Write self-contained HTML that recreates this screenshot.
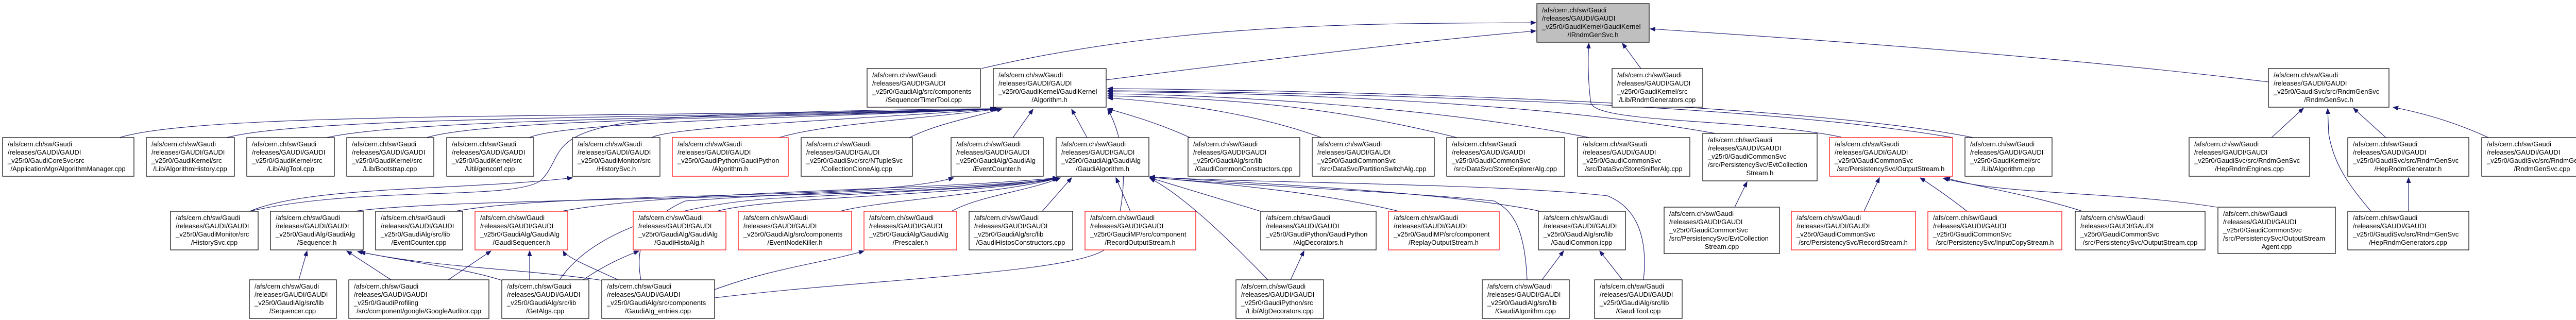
<!DOCTYPE html>
<html><head><meta charset="utf-8"><style>
html,body{margin:0;padding:0;background:#fff;}
svg{display:block;}
text{font-family:"Liberation Sans",Arial,sans-serif;font-size:13px;fill:#000;}
.b{fill:#fff;stroke:#000;stroke-width:1.2;}
.r{fill:#fff;stroke:#f00;stroke-width:1.2;}
.g{fill:#bfbfbf;stroke:#000;stroke-width:1.2;}
.e{fill:none;stroke:#191970;stroke-width:1.1;marker-end:url(#a);}
.c{text-anchor:middle;}
</style></head><body>
<svg width="5056" height="621" viewBox="0 0 5056 621" xmlns="http://www.w3.org/2000/svg">
<defs><marker id="a" markerUnits="userSpaceOnUse" markerWidth="11" markerHeight="8" refX="10" refY="4" orient="auto"><path d="M0,0 L10,4 L0,8 z" fill="#191970" stroke="#191970"/></marker></defs>

<!-- edges -->
<g>
<!-- to IRndmGenSvc -->
<path class="e" d="M1905,133 C2300,40 2700,46 2981,44"/>
<path class="e" d="M2147,155 C2500,110 2800,75 2981,60"/>
<path class="e" d="M3185,133 L3149,84"/>
<path class="e" d="M4403,159 C4000,110 3500,75 3203,56"/>
<path class="e" d="M3574,266 C3400,230 3100,240 3088,200 C3082,160 3082,110 3084,84"/>
<!-- row3 to Algorithm.h -->
<path class="e" d="M232,267 C400,215 1200,230 1932,211"/>
<path class="e" d="M440,267 C600,225 1300,230 1933,211"/>
<path class="e" d="M634,267 C800,230 1400,230 1934,211"/>
<path class="e" d="M828,267 C950,230 1500,230 1935,211"/>
<path class="e" d="M1027,267 C1100,235 1600,228 1936,211"/>
<path class="e" d="M1265,267 C1300,245 1700,230 1938,211"/>
<path class="e" d="M1512,267 C1600,240 1800,230 1940,211"/>
<path class="e" d="M1765,267 C1820,240 1880,230 1945,211"/>
<path class="e" d="M1966,267 L2005,212"/>
<path class="e" d="M2110,267 L2080,212"/>
<path class="e" d="M2310,267 C2250,240 2200,225 2150,211"/>
<path class="e" d="M2565,267 C2450,225 2300,200 2150,190"/>
<path class="e" d="M2828,267 C2600,210 2400,190 2150,186"/>
<path class="e" d="M3085,267 C2800,210 2400,185 2150,182"/>
<path class="e" d="M3330,259 C3000,200 2500,180 2150,178"/>
<path class="e" d="M3790,267 C3400,200 2600,180 2150,176"/>
<path class="e" d="M3830,267 C3500,200 2600,175 2150,172"/>
<!-- HistorySvc.cpp -->
<path class="e" d="M485,410 C600,360 900,370 1111,345"/>
<path class="e" d="M485,410 C700,360 1000,390 1050,350 C1100,300 1050,250 1290,230 C1500,215 1800,212 1932,211"/>
<path class="e" d="M1387,578 C1700,540 2100,530 2150,480 C2180,430 2200,300 2150,212"/>
<!-- row4/5 to GaudiAlgorithm.h -->
<path class="e" d="M688,410 C900,380 1800,390 2053,345"/>
<path class="e" d="M883,410 C1100,370 1700,390 1851,345"/>
<path class="e" d="M1090,410 C1300,370 1800,370 2054,345"/>
<path class="e" d="M1391,410 C1500,380 1900,380 2055,345"/>
<path class="e" d="M1631,410 C1700,390 1950,375 2056,345"/>
<path class="e" d="M1847,410 C1900,380 2000,370 2058,345"/>
<path class="e" d="M2023,410 L2080,345"/>
<path class="e" d="M2194,410 L2166,345"/>
<path class="e" d="M2447,410 C2350,380 2280,360 2232,345"/>
<path class="e" d="M2715,410 C2550,370 2350,355 2232,344"/>
<path class="e" d="M2990,410 C2800,370 2400,355 2232,343"/>
<path class="e" d="M2964,543 C2960,450 2940,410 2900,390 C2700,370 2400,360 2232,344"/>
<path class="e" d="M3190,543 C3200,450 3170,400 3120,380 C2900,355 2400,355 2232,343"/>
<path class="e" d="M1086,543 C1150,450 1300,400 1500,385 C1800,370 2000,360 2054,346"/>
<path class="e" d="M1244,543 C1230,470 1260,420 1330,390 C1600,370 1900,365 2054,347"/>
<path class="e" d="M2461,543 C2400,480 2300,380 2232,346"/>
<!-- row5 to row4 -->
<path class="e" d="M580,543 L596,487"/>
<path class="e" d="M759,543 L673,487"/>
<path class="e" d="M870,543 L953,487"/>
<path class="e" d="M974,544 C900,520 800,510 694,488"/>
<path class="e" d="M1169,544 C1000,520 850,520 699,489"/>
<path class="e" d="M1028,543 L1028,487"/>
<path class="e" d="M1200,543 C1150,520 1100,500 1093,487"/>
<path class="e" d="M1132,543 C1180,510 1220,495 1240,487"/>
<path class="e" d="M1387,562 C1500,520 1600,510 1677,487"/>
<path class="e" d="M2505,543 L2531,487"/>
<path class="e" d="M2993,543 L3035,487"/>
<path class="e" d="M3149,543 L3105,487"/>
<path class="e" d="M3367,402 L3391,353"/>
<path class="e" d="M3618,410 L3648,345"/>
<path class="e" d="M3818,410 C3780,380 3750,360 3727,345"/>
<path class="e" d="M4042,410 C3950,380 3850,365 3775,345"/>
<path class="e" d="M4303,402 C4100,370 3900,380 3772,346"/>
<!-- RndmGenSvc.h -->
<path class="e" d="M4409,267 L4471,210"/>
<path class="e" d="M4631,267 L4568,210"/>
<path class="e" d="M4830,267 C4750,230 4680,215 4645,208"/>
<path class="e" d="M4602,410 C4560,360 4530,320 4520,260 L4518,211"/>
<path class="e" d="M4675,410 L4675,345"/>
</g>

<!-- nodes -->
<g>
<rect class="g" x="2983" y="7" width="218" height="75"/>
<text x="2993" y="24">/afs/cern.ch/sw/Gaudi</text><text x="2993" y="40">/releases/GAUDI/GAUDI</text><text x="2993" y="56">_v25r0/GaudiKernel/GaudiKernel</text><text class="c" x="3092" y="72">/IRndmGenSvc.h</text>

<rect class="b" x="1683" y="133" width="220" height="75"/>
<text x="1693" y="150">/afs/cern.ch/sw/Gaudi</text><text x="1693" y="166">/releases/GAUDI/GAUDI</text><text x="1693" y="182">_v25r0/GaudiAlg/src/components</text><text class="c" x="1793" y="198">/SequencerTimerTool.cpp</text>

<rect class="b" x="1928" y="133" width="219" height="75"/>
<text x="1938" y="150">/afs/cern.ch/sw/Gaudi</text><text x="1938" y="166">/releases/GAUDI/GAUDI</text><text x="1938" y="182">_v25r0/GaudiKernel/GaudiKernel</text><text class="c" x="2037" y="198">/Algorithm.h</text>

<rect class="b" x="3129" y="133" width="176" height="75"/>
<text x="3139" y="150">/afs/cern.ch/sw/Gaudi</text><text x="3139" y="166">/releases/GAUDI/GAUDI</text><text x="3139" y="182">_v25r0/GaudiKernel/src</text><text class="c" x="3217" y="198">/Lib/RndmGenerators.cpp</text>

<rect class="b" x="4403" y="133" width="234" height="75"/>
<text x="4413" y="150">/afs/cern.ch/sw/Gaudi</text><text x="4413" y="166">/releases/GAUDI/GAUDI</text><text x="4413" y="182">_v25r0/GaudiSvc/src/RndmGenSvc</text><text class="c" x="4520" y="198">/RndmGenSvc.h</text>

<!-- row 3 -->
<rect class="b" x="5" y="267" width="255" height="75"/>
<text x="15" y="284">/afs/cern.ch/sw/Gaudi</text><text x="15" y="300">/releases/GAUDI/GAUDI</text><text x="15" y="316">_v25r0/GaudiCoreSvc/src</text><text class="c" x="132" y="332">/ApplicationMgr/AlgorithmManager.cpp</text>

<rect class="b" x="284" y="267" width="171" height="75"/>
<text x="294" y="284">/afs/cern.ch/sw/Gaudi</text><text x="294" y="300">/releases/GAUDI/GAUDI</text><text x="294" y="316">_v25r0/GaudiKernel/src</text><text class="c" x="369" y="332">/Lib/AlgorithmHistory.cpp</text>

<rect class="b" x="479" y="267" width="170" height="75"/>
<text x="489" y="284">/afs/cern.ch/sw/Gaudi</text><text x="489" y="300">/releases/GAUDI/GAUDI</text><text x="489" y="316">_v25r0/GaudiKernel/src</text><text class="c" x="564" y="332">/Lib/AlgTool.cpp</text>

<rect class="b" x="673" y="267" width="169" height="75"/>
<text x="683" y="284">/afs/cern.ch/sw/Gaudi</text><text x="683" y="300">/releases/GAUDI/GAUDI</text><text x="683" y="316">_v25r0/GaudiKernel/src</text><text class="c" x="757" y="332">/Lib/Bootstrap.cpp</text>

<rect class="b" x="867" y="267" width="169" height="75"/>
<text x="877" y="284">/afs/cern.ch/sw/Gaudi</text><text x="877" y="300">/releases/GAUDI/GAUDI</text><text x="877" y="316">_v25r0/GaudiKernel/src</text><text class="c" x="951" y="332">/Util/genconf.cpp</text>

<rect class="b" x="1111" y="267" width="170" height="75"/>
<text x="1121" y="284">/afs/cern.ch/sw/Gaudi</text><text x="1121" y="300">/releases/GAUDI/GAUDI</text><text x="1121" y="316">_v25r0/GaudiMonitor/src</text><text class="c" x="1196" y="332">/HistorySvc.h</text>

<rect class="r" x="1305" y="267" width="225" height="75"/>
<text x="1315" y="284">/afs/cern.ch/sw/Gaudi</text><text x="1315" y="300">/releases/GAUDI/GAUDI</text><text x="1315" y="316">_v25r0/GaudiPython/GaudiPython</text><text class="c" x="1417" y="332">/Algorithm.h</text>

<rect class="b" x="1555" y="267" width="216" height="75"/>
<text x="1565" y="284">/afs/cern.ch/sw/Gaudi</text><text x="1565" y="300">/releases/GAUDI/GAUDI</text><text x="1565" y="316">_v25r0/GaudiSvc/src/NTupleSvc</text><text class="c" x="1663" y="332">/CollectionCloneAlg.cpp</text>

<rect class="b" x="1846" y="267" width="179" height="75"/>
<text x="1856" y="284">/afs/cern.ch/sw/Gaudi</text><text x="1856" y="300">/releases/GAUDI/GAUDI</text><text x="1856" y="316">_v25r0/GaudiAlg/GaudiAlg</text><text class="c" x="1935" y="332">/EventCounter.h</text>

<rect class="b" x="2050" y="267" width="180" height="75"/>
<text x="2060" y="284">/afs/cern.ch/sw/Gaudi</text><text x="2060" y="300">/releases/GAUDI/GAUDI</text><text x="2060" y="316">_v25r0/GaudiAlg/GaudiAlg</text><text class="c" x="2140" y="332">/GaudiAlgorithm.h</text>

<rect class="b" x="2306" y="267" width="217" height="75"/>
<text x="2316" y="284">/afs/cern.ch/sw/Gaudi</text><text x="2316" y="300">/releases/GAUDI/GAUDI</text><text x="2316" y="316">_v25r0/GaudiAlg/src/lib</text><text class="c" x="2414" y="332">/GaudiCommonConstructors.cpp</text>

<rect class="b" x="2547" y="267" width="237" height="75"/>
<text x="2557" y="284">/afs/cern.ch/sw/Gaudi</text><text x="2557" y="300">/releases/GAUDI/GAUDI</text><text x="2557" y="316">_v25r0/GaudiCommonSvc</text><text class="c" x="2665" y="332">/src/DataSvc/PartitionSwitchAlg.cpp</text>

<rect class="b" x="2808" y="267" width="229" height="75"/>
<text x="2818" y="284">/afs/cern.ch/sw/Gaudi</text><text x="2818" y="300">/releases/GAUDI/GAUDI</text><text x="2818" y="316">_v25r0/GaudiCommonSvc</text><text class="c" x="2922" y="332">/src/DataSvc/StoreExplorerAlg.cpp</text>

<rect class="b" x="3062" y="267" width="218" height="75"/>
<text x="3072" y="284">/afs/cern.ch/sw/Gaudi</text><text x="3072" y="300">/releases/GAUDI/GAUDI</text><text x="3072" y="316">_v25r0/GaudiCommonSvc</text><text class="c" x="3171" y="332">/src/DataSvc/StoreSnifferAlg.cpp</text>

<rect class="b" x="3305" y="259" width="222" height="92"/>
<text x="3315" y="276">/afs/cern.ch/sw/Gaudi</text><text x="3315" y="292">/releases/GAUDI/GAUDI</text><text x="3315" y="308">_v25r0/GaudiCommonSvc</text><text x="3315" y="324">/src/PersistencySvc/EvtCollection</text><text class="c" x="3416" y="340">Stream.h</text>

<rect class="r" x="3551" y="267" width="239" height="75"/>
<text x="3561" y="284">/afs/cern.ch/sw/Gaudi</text><text x="3561" y="300">/releases/GAUDI/GAUDI</text><text x="3561" y="316">_v25r0/GaudiCommonSvc</text><text class="c" x="3670" y="332">/src/PersistencySvc/OutputStream.h</text>

<rect class="b" x="3814" y="267" width="169" height="75"/>
<text x="3824" y="284">/afs/cern.ch/sw/Gaudi</text><text x="3824" y="300">/releases/GAUDI/GAUDI</text><text x="3824" y="316">_v25r0/GaudiKernel/src</text><text class="c" x="3898" y="332">/Lib/Algorithm.cpp</text>

<rect class="b" x="4249" y="267" width="234" height="75"/>
<text x="4259" y="284">/afs/cern.ch/sw/Gaudi</text><text x="4259" y="300">/releases/GAUDI/GAUDI</text><text x="4259" y="316">_v25r0/GaudiSvc/src/RndmGenSvc</text><text class="c" x="4366" y="332">/HepRndmEngines.cpp</text>

<rect class="b" x="4557" y="267" width="235" height="75"/>
<text x="4567" y="284">/afs/cern.ch/sw/Gaudi</text><text x="4567" y="300">/releases/GAUDI/GAUDI</text><text x="4567" y="316">_v25r0/GaudiSvc/src/RndmGenSvc</text><text class="c" x="4674" y="332">/HepRndmGenerator.h</text>

<rect class="b" x="4817" y="267" width="234" height="75"/>
<text x="4827" y="284">/afs/cern.ch/sw/Gaudi</text><text x="4827" y="300">/releases/GAUDI/GAUDI</text><text x="4827" y="316">_v25r0/GaudiSvc/src/RndmGenSvc</text><text class="c" x="4934" y="332">/RndmGenSvc.cpp</text>

<!-- row 4 -->
<rect class="b" x="331" y="410" width="170" height="75"/>
<text x="341" y="427">/afs/cern.ch/sw/Gaudi</text><text x="341" y="443">/releases/GAUDI/GAUDI</text><text x="341" y="459">_v25r0/GaudiMonitor/src</text><text class="c" x="416" y="475">/HistorySvc.cpp</text>

<rect class="b" x="525" y="410" width="180" height="75"/>
<text x="535" y="427">/afs/cern.ch/sw/Gaudi</text><text x="535" y="443">/releases/GAUDI/GAUDI</text><text x="535" y="459">_v25r0/GaudiAlg/GaudiAlg</text><text class="c" x="615" y="475">/Sequencer.h</text>

<rect class="b" x="729" y="410" width="169" height="75"/>
<text x="739" y="427">/afs/cern.ch/sw/Gaudi</text><text x="739" y="443">/releases/GAUDI/GAUDI</text><text x="739" y="459">_v25r0/GaudiAlg/src/lib</text><text class="c" x="813" y="475">/EventCounter.cpp</text>

<rect class="r" x="922" y="410" width="180" height="75"/>
<text x="932" y="427">/afs/cern.ch/sw/Gaudi</text><text x="932" y="443">/releases/GAUDI/GAUDI</text><text x="932" y="459">_v25r0/GaudiAlg/GaudiAlg</text><text class="c" x="1012" y="475">/GaudiSequencer.h</text>

<rect class="r" x="1229" y="410" width="180" height="75"/>
<text x="1239" y="427">/afs/cern.ch/sw/Gaudi</text><text x="1239" y="443">/releases/GAUDI/GAUDI</text><text x="1239" y="459">_v25r0/GaudiAlg/GaudiAlg</text><text class="c" x="1319" y="475">/GaudiHistoAlg.h</text>

<rect class="r" x="1433" y="410" width="220" height="75"/>
<text x="1443" y="427">/afs/cern.ch/sw/Gaudi</text><text x="1443" y="443">/releases/GAUDI/GAUDI</text><text x="1443" y="459">_v25r0/GaudiAlg/src/components</text><text class="c" x="1543" y="475">/EventNodeKiller.h</text>

<rect class="r" x="1677" y="410" width="180" height="75"/>
<text x="1687" y="427">/afs/cern.ch/sw/Gaudi</text><text x="1687" y="443">/releases/GAUDI/GAUDI</text><text x="1687" y="459">_v25r0/GaudiAlg/GaudiAlg</text><text class="c" x="1767" y="475">/Prescaler.h</text>

<rect class="b" x="1881" y="410" width="201" height="75"/>
<text x="1891" y="427">/afs/cern.ch/sw/Gaudi</text><text x="1891" y="443">/releases/GAUDI/GAUDI</text><text x="1891" y="459">_v25r0/GaudiAlg/src/lib</text><text class="c" x="1981" y="475">/GaudiHistosConstructors.cpp</text>

<rect class="r" x="2106" y="410" width="215" height="75"/>
<text x="2116" y="427">/afs/cern.ch/sw/Gaudi</text><text x="2116" y="443">/releases/GAUDI/GAUDI</text><text x="2116" y="459">_v25r0/GaudiMP/src/component</text><text class="c" x="2213" y="475">/RecordOutputStream.h</text>

<rect class="b" x="2447" y="410" width="224" height="75"/>
<text x="2457" y="427">/afs/cern.ch/sw/Gaudi</text><text x="2457" y="443">/releases/GAUDI/GAUDI</text><text x="2457" y="459">_v25r0/GaudiPython/GaudiPython</text><text class="c" x="2559" y="475">/AlgDecorators.h</text>

<rect class="r" x="2695" y="410" width="215" height="75"/>
<text x="2705" y="427">/afs/cern.ch/sw/Gaudi</text><text x="2705" y="443">/releases/GAUDI/GAUDI</text><text x="2705" y="459">_v25r0/GaudiMP/src/component</text><text class="c" x="2802" y="475">/ReplayOutputStream.h</text>

<rect class="b" x="2986" y="410" width="169" height="75"/>
<text x="2996" y="427">/afs/cern.ch/sw/Gaudi</text><text x="2996" y="443">/releases/GAUDI/GAUDI</text><text x="2996" y="459">_v25r0/GaudiAlg/src/lib</text><text class="c" x="3070" y="475">/GaudiCommon.icpp</text>

<rect class="b" x="3230" y="402" width="224" height="90"/>
<text x="3240" y="419">/afs/cern.ch/sw/Gaudi</text><text x="3240" y="435">/releases/GAUDI/GAUDI</text><text x="3240" y="451">_v25r0/GaudiCommonSvc</text><text x="3240" y="467">/src/PersistencySvc/EvtCollection</text><text class="c" x="3342" y="483">Stream.cpp</text>

<rect class="r" x="3477" y="410" width="241" height="75"/>
<text x="3487" y="427">/afs/cern.ch/sw/Gaudi</text><text x="3487" y="443">/releases/GAUDI/GAUDI</text><text x="3487" y="459">_v25r0/GaudiCommonSvc</text><text class="c" x="3597" y="475">/src/PersistencySvc/RecordStream.h</text>

<rect class="r" x="3742" y="410" width="260" height="75"/>
<text x="3752" y="427">/afs/cern.ch/sw/Gaudi</text><text x="3752" y="443">/releases/GAUDI/GAUDI</text><text x="3752" y="459">_v25r0/GaudiCommonSvc</text><text class="c" x="3872" y="475">/src/PersistencySvc/InputCopyStream.h</text>

<rect class="b" x="4028" y="410" width="252" height="75"/>
<text x="4038" y="427">/afs/cern.ch/sw/Gaudi</text><text x="4038" y="443">/releases/GAUDI/GAUDI</text><text x="4038" y="459">_v25r0/GaudiCommonSvc</text><text class="c" x="4154" y="475">/src/PersistencySvc/OutputStream.cpp</text>

<rect class="b" x="4305" y="402" width="228" height="90"/>
<text x="4315" y="419">/afs/cern.ch/sw/Gaudi</text><text x="4315" y="435">/releases/GAUDI/GAUDI</text><text x="4315" y="451">_v25r0/GaudiCommonSvc</text><text x="4315" y="467">/src/PersistencySvc/OutputStream</text><text class="c" x="4419" y="483">Agent.cpp</text>

<rect class="b" x="4557" y="410" width="235" height="75"/>
<text x="4567" y="427">/afs/cern.ch/sw/Gaudi</text><text x="4567" y="443">/releases/GAUDI/GAUDI</text><text x="4567" y="459">_v25r0/GaudiSvc/src/RndmGenSvc</text><text class="c" x="4674" y="475">/HepRndmGenerators.cpp</text>

<!-- row 5 -->
<rect class="b" x="484" y="543" width="169" height="75"/>
<text x="494" y="560">/afs/cern.ch/sw/Gaudi</text><text x="494" y="576">/releases/GAUDI/GAUDI</text><text x="494" y="592">_v25r0/GaudiAlg/src/lib</text><text class="c" x="568" y="608">/Sequencer.cpp</text>

<rect class="b" x="677" y="543" width="272" height="75"/>
<text x="687" y="560">/afs/cern.ch/sw/Gaudi</text><text x="687" y="576">/releases/GAUDI/GAUDI</text><text x="687" y="592">_v25r0/GaudiProfiling</text><text class="c" x="813" y="608">/src/component/google/GoogleAuditor.cpp</text>

<rect class="b" x="974" y="543" width="169" height="75"/>
<text x="984" y="560">/afs/cern.ch/sw/Gaudi</text><text x="984" y="576">/releases/GAUDI/GAUDI</text><text x="984" y="592">_v25r0/GaudiAlg/src/lib</text><text class="c" x="1058" y="608">/GetAlgs.cpp</text>

<rect class="b" x="1168" y="543" width="219" height="75"/>
<text x="1178" y="560">/afs/cern.ch/sw/Gaudi</text><text x="1178" y="576">/releases/GAUDI/GAUDI</text><text x="1178" y="592">_v25r0/GaudiAlg/src/components</text><text class="c" x="1277" y="608">/GaudiAlg_entries.cpp</text>

<rect class="b" x="2399" y="543" width="170" height="75"/>
<text x="2409" y="560">/afs/cern.ch/sw/Gaudi</text><text x="2409" y="576">/releases/GAUDI/GAUDI</text><text x="2409" y="592">_v25r0/GaudiPython/src</text><text class="c" x="2484" y="608">/Lib/AlgDecorators.cpp</text>

<rect class="b" x="2877" y="543" width="169" height="75"/>
<text x="2887" y="560">/afs/cern.ch/sw/Gaudi</text><text x="2887" y="576">/releases/GAUDI/GAUDI</text><text x="2887" y="592">_v25r0/GaudiAlg/src/lib</text><text class="c" x="2961" y="608">/GaudiAlgorithm.cpp</text>

<rect class="b" x="3095" y="543" width="170" height="75"/>
<text x="3105" y="560">/afs/cern.ch/sw/Gaudi</text><text x="3105" y="576">/releases/GAUDI/GAUDI</text><text x="3105" y="592">_v25r0/GaudiAlg/src/lib</text><text class="c" x="3180" y="608">/GaudiTool.cpp</text>
</g>
</svg>
</body></html>
